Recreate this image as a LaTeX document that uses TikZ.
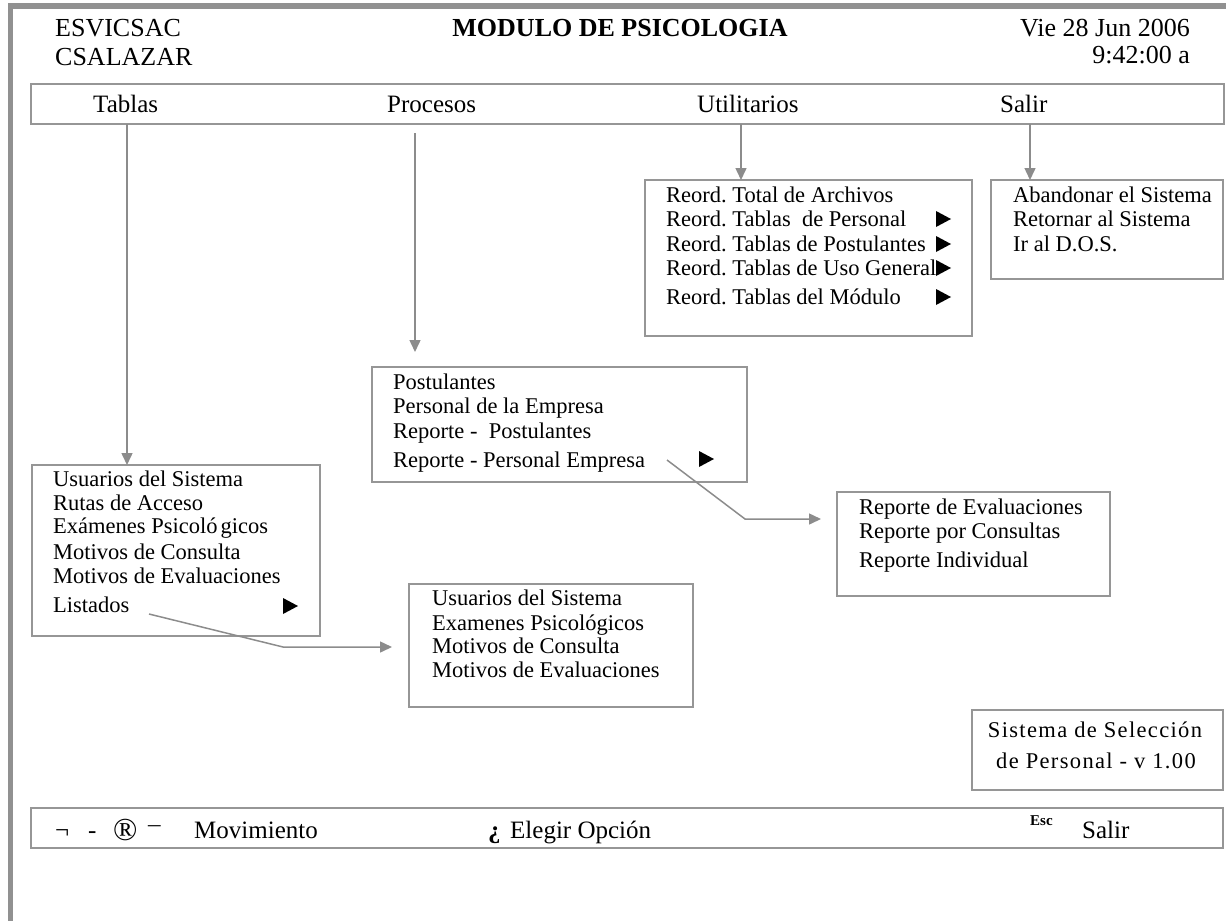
\documentclass[tikz,border=0pt]{standalone}
\usepackage{fontspec}
\setmainfont{Liberation Serif}
\usetikzlibrary{arrows.meta}
\definecolor{framegray}{RGB}{145,145,145}
\definecolor{boxgray}{RGB}{150,150,150}
\definecolor{arrowgray}{RGB}{140,140,140}

% small black pointer that marks an entry with a sub-menu
\newcommand\submark[2]{\fill[black] (#1,#2-8) -- (#1+15,#2) -- (#1,#2+8) -- cycle;}

\begin{document}
\frenchspacing
\begin{tikzpicture}[x=1pt,y=-1pt,
  menubox/.style={draw=boxgray,line width=1.8pt,inner sep=0pt,outer sep=0pt,anchor=north west},
  hdr/.style={anchor=base west,inner sep=0pt,font=\fontsize{26}{30}\selectfont},
  bartext/.style={anchor=base west,inner sep=0pt,font=\fontsize{25}{30}\selectfont},
  item/.style={anchor=base west,inner sep=0pt,font=\fontsize{22.5}{27}\selectfont},
  arr/.style={draw=arrowgray,line width=1.5pt,-{Triangle[length=12pt,width=11pt]}}]
\useasboundingbox (0,0) rectangle (1231,921);

% window frame
\fill[framegray] (8,3) rectangle (13,921);
\fill[framegray] (8,3) rectangle (1226,9);

% header
\node[hdr] (org) at (55,36) {ESVICSAC};
\node[hdr] (usr) at (55,65) {CSALAZAR};
\node[hdr,anchor=base] (title) at (620,36) {\textbf{MODULO DE PSICOLOGIA}};
\node[hdr,anchor=base east] (date) at (1190,36) {Vie 28 Jun 2006};
\node[hdr,anchor=base east] (time) at (1190,63) {9:42:00 a};

% menu bar
\node[menubox,minimum width=1193pt,minimum height=40pt] (bar) at (31,84) {};
\node[bartext] (mtab) at (93,112) {Tablas};
\node[bartext] (mproc) at (387,112) {Procesos};
\node[bartext] (mutil) at (697,112) {Utilitarios};
\node[bartext] (msal) at (1000,112) {Salir};

% drop-down boxes
\node[menubox,minimum width=288pt,minimum height=171pt] (tabbox) at (32,465) {};
\node[menubox,minimum width=375pt,minimum height=115pt] (procbox) at (372,367) {};
\node[menubox,minimum width=327pt,minimum height=156pt] (reordbox) at (645,180) {};
\node[menubox,minimum width=232pt,minimum height=99pt] (salbox) at (991,180) {};
\node[menubox,minimum width=273pt,minimum height=104pt] (repbox) at (837,492) {};
\node[menubox,minimum width=284pt,minimum height=123pt] (lstbox) at (409,584) {};
\node[menubox,minimum width=251pt,minimum height=80pt] (sysbox) at (972,710) {};
\node[menubox,minimum width=1192pt,minimum height=40pt] (keybar) at (31,808) {};

% Tablas
\node[item] (t1) at (53,486) {Usuarios del Sistema};
\node[item] (t2) at (53,510) {Rutas de Acceso};
\node[item] (t3) at (53,533) {Exámenes Psicoló\kern3pt gicos};
\node[item] (t4) at (53,559) {Motivos de Consulta};
\node[item] (t5) at (53,583) {Motivos de Evaluaciones};
\node[item] (t6) at (53,612) {Listados};
\submark{283}{606}

% Procesos
\node[item] (p1) at (393,389) {Postulantes};
\node[item] (p2) at (393,413) {Personal de la Empresa};
\node[item] (p3) at (393,438) {Reporte - \ Postulantes};
\node[item] (p4) at (393,467) {Reporte - Personal Empresa};
\submark{699}{459}

% Utilitarios
\node[item] (u1) at (666,202) {Reord. Total de Archivos};
\node[item] (u2) at (666,226) {Reord. Tablas \ de Personal};
\node[item] (u3) at (666,251) {Reord. Tablas de Postulantes};
\node[item] (u4) at (666,275) {Reord. Tablas de Uso General};
\node[item] (u5) at (666,304) {Reord. Tablas del Módulo};
\submark{936}{219}
\submark{936}{244}
\submark{936}{268}
\submark{936}{297}

% Salir
\node[item] (s1) at (1013,202) {Abandonar el Sistema};
\node[item] (s2) at (1013,226) {Retornar al Sistema};
\node[item] (s3) at (1013,251) {Ir al D.O.S.};

% reportes del personal
\node[item] (r1) at (859,514) {Reporte de Evaluaciones};
\node[item] (r2) at (859,538) {Reporte por Consultas};
\node[item] (r3) at (859,567) {Reporte Individual};

% listados
\node[item] (l1) at (432,605) {Usuarios del Sistema};
\node[item] (l2) at (432,630) {Examenes Psicológicos};
\node[item] (l3) at (432,653) {Motivos de Consulta};
\node[item] (l4) at (432,677) {Motivos de Evaluaciones};

% version box
\node[item,anchor=base,font=\fontsize{22.5}{27}\selectfont\addfontfeature{LetterSpace=6}] (v1) at (1095,737) {Sistema de Selección};
\node[item,anchor=base,font=\fontsize{22.5}{27}\selectfont\addfontfeature{LetterSpace=6}] (v2) at (1096,768) {de Personal - v 1.00};

% key bar
\node[bartext] (k1) at (55,838) {¬};
\node[bartext] (k2) at (88,838) {-};
\node[bartext,font=\fontsize{32}{34}\selectfont] (k3) at (113,840) {®};
\node[bartext] (k4) at (148,838) {\raisebox{-6pt}{¯}};
\node[bartext] (kmov) at (194,838) {Movimiento};
\node[bartext] (k5) at (488,838) {\textbf{¿}};
\node[bartext] (kele) at (510,838) {Elegir Opción};
\node[anchor=base west,inner sep=0pt,font=\fontsize{15}{18}\selectfont\bfseries] (kesc) at (1030,825) {Esc};
\node[bartext] (ksal) at (1082,838) {Salir};

% connectors
\coordinate (ca) at (127,124);
\coordinate (cb) at (415,133);
\coordinate (cc) at (741,124);
\coordinate (cd) at (1030,124);
\draw[arr] (ca) -- (ca |- tabbox.north);
\draw[arr] (cb) -- ([yshift=15pt]cb |- procbox.north);
\draw[arr] (cc) -- (cc |- reordbox.north);
\draw[arr] (cd) -- (cd |- salbox.north);

\coordinate (pe1) at (667,460);
\coordinate (pe2) at (745,519);
\draw[arr] (pe1) -- (pe2) -- ([xshift=-16pt]repbox.west |- pe2);

\coordinate (li1) at (149,614);
\coordinate (li2) at (283,647);
\draw[arr] (li1) -- (li2) -- ([xshift=-17pt]lstbox.west |- li2);
\end{tikzpicture}
\end{document}
